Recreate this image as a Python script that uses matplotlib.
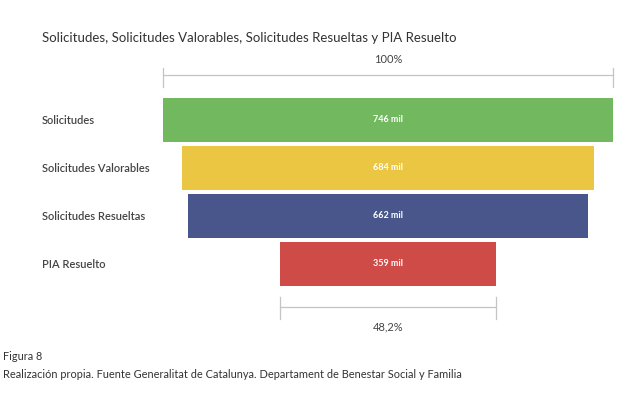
import matplotlib
matplotlib.use("Agg")
from matplotlib import pyplot as plt

categories = ["Solicitudes", "Solicitudes Valorables", "Solicitudes Resueltas", "PIA Resuelto"]
values = [746, 684, 662, 359]  # miles
value_labels = ["746 mil", "684 mil", "662 mil", "359 mil"]
colors = ["#72b85f", "#ebc642", "#49568c", "#ce4b47"]
top_label = "100%"
bottom_label = "48,2%"

W, H = 627, 400
plt.rcParams['font.family'] = ['Lato', 'DejaVu Sans']
fig = plt.figure(figsize=(W / 100, H / 100), dpi=100)
fig.patch.set_facecolor("white")

# axes covering the bar area only, brackets drawn outside with clip_on=False
ax = fig.add_axes([163 / W, 1 - 288 / H, 450 / W, 192 / H])
ax.set_xlim(-values[0] / 2, values[0] / 2)
ax.set_ylim(len(categories) - 0.5, -0.5)
ax.axis("off")

for i, (v, c) in enumerate(zip(values, colors)):
    ax.barh(i, v, left=-v / 2, height=0.91, color=c)
    ax.text(0, i, value_labels[i], ha="center", va="center", color="white",
            fontsize=6.5, fontweight="bold")
    fig.text(42 / W, 1 - (121 + 48 * i) / H, categories[i], ha="left", va="center",
             color="#444444", fontsize=8, fontweight="semibold")

line_kw = dict(color="#c4c4c4", lw=0.9, clip_on=False)

# top bracket (first bar)
x0, x1 = -values[0] / 2, values[0] / 2
ax.plot([x0, x1], [-0.94, -0.94], **line_kw)
ax.plot([x0, x0], [-1.09, -0.69], **line_kw)
ax.plot([x1, x1], [-1.09, -0.69], **line_kw)
ax.text(0, -1.27, top_label, ha="center", va="center", color="#444444", fontsize=8)

# bottom bracket (last bar)
x0, x1 = -values[-1] / 2, values[-1] / 2
ax.plot([x0, x1], [3.9, 3.9], **line_kw)
ax.plot([x0, x0], [3.69, 4.15], **line_kw)
ax.plot([x1, x1], [3.69, 4.15], **line_kw)
ax.text(0, 4.31, bottom_label, ha="center", va="center", color="#444444", fontsize=8)

fig.text(42 / W, 1 - 38 / H, "Solicitudes, Solicitudes Valorables, Solicitudes Resueltas y PIA Resuelto",
         ha="left", va="center", color="#333333", fontsize=9.5)
fig.text(3 / W, 1 - 357 / H, "Figura 8", ha="left", va="center", color="#333333", fontsize=7.8)
fig.text(3 / W, 1 - 375 / H,
         "Realización propia. Fuente Generalitat de Catalunya. Departament de Benestar Social y Familia",
         ha="left", va="center", color="#333333", fontsize=7.9)

fig.savefig("out.png", dpi=100)
